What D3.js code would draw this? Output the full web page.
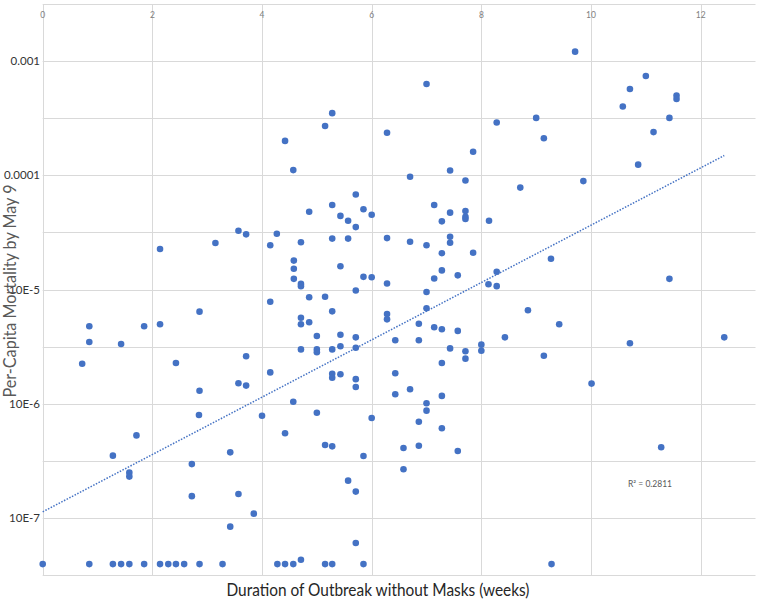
<!DOCTYPE html>
<html>
<head>
<meta charset="utf-8">
<script src="https://cdn.jsdelivr.net/npm/d3@7"></script>
<style>
  body { margin: 0; background: #fff; }
</style>
</head>
<body>
<div id="chart"></div>
<script>
// weeks without masks vs per-capita mortality (by May 9)
const points = [
  [4.42, 2.0e-4], [4.57, 1.11e-4], [5.15, 2.7e-4], [5.28, 3.5e-4], [5.71, 6.8e-5],
  [9.71, 1.21e-3], [7.00, 6.3e-4], [6.28, 2.36e-4], [8.28, 2.9e-4], [9.00, 3.18e-4],
  [9.14, 2.11e-4], [7.85, 1.61e-4], [6.70, 9.7e-5], [7.43, 1.10e-4], [7.71, 9.0e-5],
  [8.71, 7.8e-5], [9.86, 8.9e-5], [11.00, 7.4e-4], [10.71, 5.7e-4], [10.58, 4.0e-4],
  [11.56, 5.0e-4], [11.56, 4.66e-4], [11.43, 3.18e-4], [11.14, 2.39e-4], [10.86, 1.24e-4],
  [4.86, 4.8e-5], [5.28, 5.5e-5], [5.43, 4.41e-5], [5.57, 4.0e-5], [5.85, 5.04e-5],
  [6.00, 4.52e-5], [5.71, 3.52e-5], [3.57, 3.27e-5], [3.71, 3.04e-5], [4.27, 3.08e-5],
  [3.15, 2.55e-5], [2.14, 2.26e-5], [4.15, 2.44e-5], [4.71, 2.59e-5], [5.28, 2.79e-5],
  [5.57, 2.79e-5], [4.58, 1.79e-5], [4.58, 1.52e-5], [4.58, 1.24e-5], [4.71, 1.12e-5],
  [4.71, 1.07e-5], [5.43, 1.60e-5], [5.85, 1.29e-5], [6.00, 1.28e-5], [5.71, 9.8e-6],
  [4.86, 8.55e-6], [5.15, 8.65e-6], [4.15, 7.8e-6], [5.28, 6.44e-6], [2.86, 6.4e-6],
  [0.85, 4.77e-6], [1.85, 4.77e-6], [2.14, 4.96e-6], [4.71, 5.66e-6], [4.71, 4.96e-6],
  [4.86, 5.16e-6], [0.85, 3.47e-6], [1.43, 3.33e-6], [5.00, 3.92e-6], [5.43, 4.02e-6],
  [5.71, 3.81e-6], [4.71, 2.99e-6], [5.00, 2.99e-6], [5.00, 2.82e-6], [5.28, 2.99e-6],
  [5.43, 3.18e-6], [5.71, 3.09e-6], [0.72, 2.24e-6], [2.43, 2.27e-6], [3.71, 2.60e-6],
  [4.15, 1.88e-6], [5.28, 1.83e-6], [5.28, 1.69e-6], [5.43, 1.81e-6], [5.71, 1.64e-6],
  [2.86, 1.30e-6], [3.57, 1.51e-6], [3.71, 1.44e-6], [5.71, 1.40e-6],
  [7.14, 5.5e-5], [7.43, 4.71e-5], [7.71, 4.87e-5], [7.71, 4.34e-5], [7.71, 4.14e-5],
  [7.28, 3.95e-5], [8.14, 4.0e-5], [6.28, 2.82e-5], [6.70, 2.62e-5], [7.00, 2.44e-5],
  [7.43, 2.90e-5], [7.43, 2.57e-5], [7.28, 2.08e-5], [7.85, 2.10e-5], [9.27, 1.86e-5],
  [7.28, 1.47e-5], [7.14, 1.25e-5], [7.57, 1.33e-5], [8.28, 1.43e-5], [6.28, 1.13e-5],
  [8.13, 1.11e-5], [8.28, 1.07e-5], [11.43, 1.24e-5], [7.00, 9.5e-6], [7.00, 6.85e-6],
  [8.85, 6.58e-6], [6.28, 6.1e-6], [6.28, 5.48e-6], [6.86, 5.02e-6], [7.14, 4.67e-6],
  [7.28, 4.48e-6], [7.57, 4.34e-6], [9.42, 4.96e-6], [6.43, 3.59e-6], [6.86, 3.59e-6],
  [8.43, 3.81e-6], [12.43, 3.81e-6], [8.00, 3.29e-6], [8.00, 2.91e-6], [10.71, 3.38e-6],
  [7.43, 3.05e-6], [7.71, 2.88e-6], [7.71, 2.48e-6], [9.14, 2.63e-6], [7.28, 2.27e-6],
  [6.43, 1.85e-6], [6.43, 1.21e-6], [6.70, 1.34e-6], [7.28, 1.17e-6], [10.01, 1.50e-6],
  [2.85, 7.96e-7], [4.00, 7.85e-7], [4.57, 1.04e-6], [5.00, 8.34e-7], [6.00, 7.5e-7],
  [1.71, 5.28e-7], [4.42, 5.51e-7], [1.28, 3.51e-7], [3.42, 3.75e-7], [5.15, 4.35e-7],
  [5.28, 4.23e-7], [5.85, 3.48e-7], [2.72, 2.96e-7], [1.58, 2.49e-7], [1.58, 2.30e-7],
  [5.57, 2.12e-7], [5.71, 1.70e-7], [2.72, 1.55e-7], [3.57, 1.62e-7], [3.85, 1.09e-7],
  [3.42, 8.38e-8], [5.71, 6.03e-8], [4.71, 4.30e-8],
  [7.00, 1.01e-6], [7.00, 8.69e-7], [6.86, 6.95e-7], [7.28, 6.10e-7], [6.58, 4.09e-7],
  [6.86, 4.28e-7], [7.57, 3.85e-7], [6.58, 2.67e-7], [11.28, 4.15e-7]
];

// places with no deaths, drawn at a floor value
const floorWeeks = [0, 0.85, 1.28, 1.43, 1.58, 1.85, 2.14, 2.29, 2.43, 2.58, 2.86, 3.28,
  4.28, 4.42, 4.57, 5.15, 5.28, 5.85, 9.28];
const floorMortality = 3.94e-8;

// exponential trendline ends
const trendWeeks = [0, 12.43];
const trendMortality = [1.13e-7, 1.49e-4];
const rSquared = 'R² = 0.2811';

const xTicks = [0, 2, 4, 6, 8, 10, 12];
const yTicks = [1e-7, 1e-6, 1e-5, 1e-4, 1e-3];
const yTickLabels = ['10E-7', '10E-6', '10E-5', '0.0001', '0.001'];
const yGrid = [-7.5, -7, -6.5, -6, -5.5, -5, -4.5, -4, -3.5, -3, -2.5].map(e => Math.pow(10, e));

const width = 757, height = 600;
const blue = '#4472C4';

const data = points.concat(floorWeeks.map(w => [w, floorMortality]));

const x = d3.scaleLinear().domain([0, 13]).range([42.7, 755.5]);
const y = d3.scaleLog().domain([Math.pow(10, -7.5), Math.pow(10, -2.5)]).range([575, 4]);

const svg = d3.select('#chart').append('svg')
  .attr('width', width)
  .attr('height', height)
  .attr('viewBox', [0, 0, width, height]);

// gridlines
svg.append('g')
  .attr('stroke', '#d9d9d9')
  .attr('stroke-width', 1)
  .selectAll('line')
  .data(yGrid)
  .join('line')
  .attr('x1', x(0))
  .attr('x2', x(13))
  .attr('y1', d => Math.round(y(d)) + 0.5)
  .attr('y2', d => Math.round(y(d)) + 0.5);

svg.append('g')
  .attr('stroke', '#d9d9d9')
  .attr('stroke-width', 1)
  .selectAll('line')
  .data(xTicks)
  .join('line')
  .attr('x1', d => Math.round(x(d)) + 0.5)
  .attr('x2', d => Math.round(x(d)) + 0.5)
  .attr('y1', y.range()[1])
  .attr('y2', y.range()[0]);

// x tick labels sit along the top
svg.append('g')
  .attr('font-family', 'Lato, "Open Sans", sans-serif')
  .attr('font-size', 8.5)
  .attr('fill', '#7f7f7f')
  .attr('text-anchor', 'middle')
  .selectAll('text')
  .data(xTicks)
  .join('text')
  .attr('x', d => x(d))
  .attr('y', 18)
  .text(d => d);

// y tick labels
svg.append('g')
  .attr('font-family', 'Lato, "Open Sans", sans-serif')
  .attr('font-size', 11.5)
  .attr('fill', '#333')
  .attr('text-anchor', 'end')
  .selectAll('text')
  .data(yTicks)
  .join('text')
  .attr('x', 40)
  .attr('y', d => y(d))
  .attr('dy', '0.35em')
  .text((d, i) => yTickLabels[i]);

// trendline
svg.append('path')
  .attr('fill', 'none')
  .attr('stroke', blue)
  .attr('stroke-width', 1.5)
  .attr('stroke-dasharray', '1.5,1.5')
  .attr('d', d3.line()
    .x(i => x(trendWeeks[i]))
    .y(i => y(trendMortality[i]))(d3.range(trendWeeks.length)));

// dots
svg.append('g')
  .attr('fill', blue)
  .selectAll('circle')
  .data(data)
  .join('circle')
  .attr('cx', d => x(d[0]))
  .attr('cy', d => y(d[1]))
  .attr('r', 3.3);

svg.append('text')
  .attr('x', 650)
  .attr('y', 484)
  .attr('dy', '0.35em')
  .attr('text-anchor', 'middle')
  .attr('font-family', 'Lato, "Open Sans", sans-serif')
  .attr('font-size', 8.5)
  .attr('fill', '#595959')
  .text(rSquared);

// axis titles
svg.append('text')
  .attr('x', 378)
  .attr('y', 596)
  .attr('text-anchor', 'middle')
  .attr('font-family', 'Lato, "Open Sans", sans-serif')
  .attr('font-size', 17)
  .attr('fill', '#262626')
  .attr('textLength', 303)
  .attr('lengthAdjust', 'spacingAndGlyphs')
  .text('Duration of Outbreak without Masks (weeks)');

svg.append('text')
  .attr('transform', 'translate(16,291) rotate(-90)')
  .attr('text-anchor', 'middle')
  .attr('font-family', 'Lato, "Open Sans", sans-serif')
  .attr('font-size', 17)
  .attr('fill', '#595959')
  .attr('textLength', 213)
  .attr('lengthAdjust', 'spacingAndGlyphs')
  .text('Per-Capita Mortality by May 9');
</script>
</body>
</html>
